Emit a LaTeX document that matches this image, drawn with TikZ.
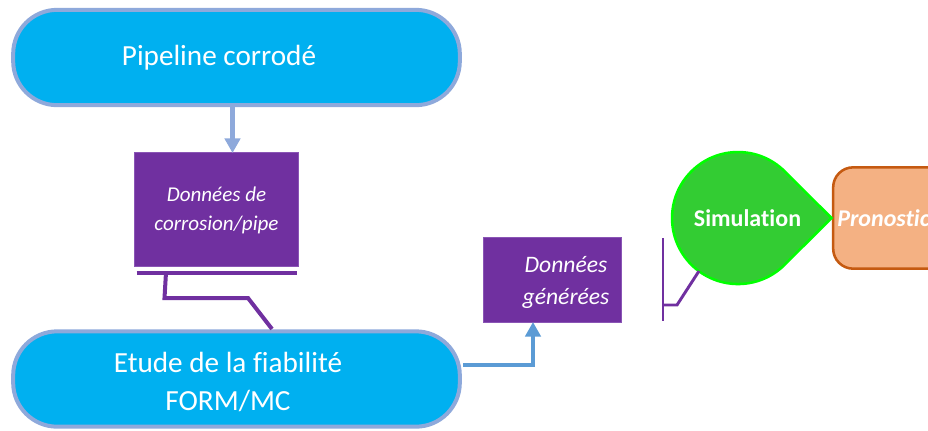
\documentclass[tikz,border=0pt]{standalone}
\usepackage{fontspec}
\setmainfont{Carlito}[RawFeature={-liga;-clig}]
\usetikzlibrary{arrows.meta,calc}
\definecolor{cyanfill}{HTML}{00B0F0}
\definecolor{softblue}{HTML}{8EA9DB}
\definecolor{linkblue}{HTML}{5B9BD5}
\definecolor{purplefill}{HTML}{7030A0}
\definecolor{purpleedge}{HTML}{8A55B5}
\definecolor{greenfill}{HTML}{33CC33}
\definecolor{greenedge}{HTML}{00FF00}
\definecolor{peachfill}{HTML}{F4B183}
\definecolor{peachedge}{HTML}{C55A11}
\tikzset{
  x=0.75pt,y=-0.75pt,
  bigbox/.style={draw=softblue,line width=3pt,fill=cyanfill,rounded corners=33pt,minimum width=335pt,minimum height=71.5pt,inner sep=0pt},
  bigtext/.style={text=white,inner sep=0pt,align=center,font=\fontsize{21.9}{28.5}\selectfont},
  databox/.style={draw=purpleedge,line width=0.5pt,fill=purplefill,inner sep=0pt},
  datatext/.style={text=white,inner sep=0pt,align=center,font=\fontsize{15.8}{21.8}\selectfont\itshape},
  gentext/.style={text=white,inner sep=0pt,align=center,font=\fontsize{17.7}{24}\selectfont\itshape},
  bar/.style={draw=purplefill,line width=3pt},
  thinbar/.style={draw=purplefill,line width=2.2pt},
  softarrow/.style={draw=softblue,line width=3.2pt,-{Triangle[length=11pt,width=11.5pt]}},
  linkarrow/.style={draw=linkblue,line width=3.2pt,-{Triangle[length=11pt,width=11.5pt]}},
}
\begin{document}
\begin{tikzpicture}
\useasboundingbox (0,0) rectangle (928,430);
\clip (0,0) rectangle (928,430);
\node[bigbox] (pipe) at (236.5,57.5) {};
\node[bigtext] (pipetext) at (219,58) {Pipeline corrodé};
\node[bigbox] (etude) at (236.5,379) {};
\node[bigtext] (etudetext) at (228,382) {Etude de la fiabilité\\FORM/MC};
\node[databox,minimum width=123pt,minimum height=85.5pt] (corr) at (216.8,209) {};
\node[datatext] (corrtext) at (216.5,210) {Données de\\corrosion/pipe};
\node[databox,minimum width=103.5pt,minimum height=63.75pt] (gen) at (552.5,279.5) {};
\node[gentext] (gentextnode) at (566,282.5) {Données\\générées};
% peach box, running off the page
\node[draw=peachedge,fill=peachfill,line width=1.9pt,rounded corners=15pt,minimum width=95pt,minimum height=76pt,inner sep=0pt] (prono) at (896.5,218) {};
\node[text=white,font=\fontsize{18}{20}\selectfont\bfseries\itshape,anchor=west,inner sep=0pt] (pronotext) at (837,218) {Pronostic};
% teardrop
\coordinate (tip) at (831.5,218);
\draw[draw=greenedge,fill=greenfill,line width=1.9pt] (tip) -- (784.7,264.7) arc[start angle=45,end angle=315,radius=66] -- cycle;
\node[text=white,font=\fontsize{18}{20}\selectfont\bfseries,inner sep=0pt] (sim) at (747.5,218) {Simulation};
% connectors
\coordinate (pipeout) at (232.5,106);
\coordinate (corrin) at (232.5,153);
\draw[softarrow] (pipeout) -- (corrin);
\coordinate (etudeout) at (463,365);
\coordinate (genin) at (533,322);
\draw[linkarrow] (etudeout) -| (genin);
\coordinate (barleft) at (136.5,272.5);
\coordinate (barright) at (297,272.5);
\draw[bar] (barleft) -- (barright);
\coordinate (barjoin) at (166,272.5);
\coordinate (etudein) at (272,329);
\draw[bar,line join=miter] (barjoin) -- (164.5,298) -- (248,298) -- (etudein);
\coordinate (bracktop) at (663,238);
\coordinate (brackbot) at (663,321);
\draw[thinbar] (bracktop) -- (brackbot);
\coordinate (brackjoin) at (663,305);
\coordinate (simin) at (699,271);
\draw[thinbar] (brackjoin) -- (677,305) -- (simin);
\end{tikzpicture}
\end{document}
